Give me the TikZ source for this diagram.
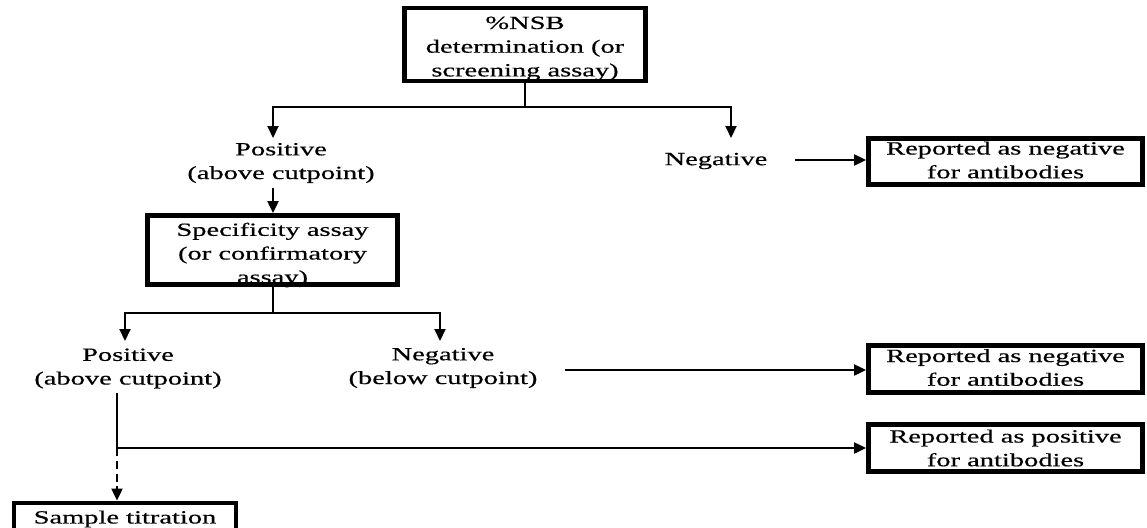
\documentclass[tikz,border=0pt]{standalone}
\usepackage{fontspec}
\setmainfont[FakeStretch=1.53,FakeBold=0.5]{Liberation Serif}
\usetikzlibrary{arrows.meta}
\tikzset{
  txt/.style={font=\fontsize{18.6}{23.7}\selectfont, align=center, inner sep=0pt},
  bx/.style={draw=black, line width=4.8pt, fill=white, inner sep=0pt},
  ln/.style={line width=2pt, draw=black},
  arr/.style={ln, -{Triangle[length=12pt,width=11pt]}},
  dsh/.style={ln, dash pattern=on 8pt off 5pt}
}
\begin{document}
\begin{tikzpicture}[x=1pt,y=-1pt]
\useasboundingbox (0,0) rectangle (1147,527);
\clip (0,0) rectangle (1147,527);
\fill[white] (0,0) rectangle (1147,527);

% boxes
\node[bx, minimum width=241pt, minimum height=73pt,
  label={[txt, yshift=-4pt]center:\%NSB\\determination (or\\screening assay)}] (top) at (525,44.5) {};
\node[bx, minimum width=250pt, minimum height=69pt,
  label={[txt, yshift=-5pt]center:Specificity assay\\(or confirmatory\\assay)}] (spec) at (272.5,250) {};
\node[bx, minimum width=274pt, minimum height=46pt,
  label={[txt, yshift=1.5pt]center:Reported as negative\\for antibodies}] (rep1) at (1005.5,161.5) {};
\node[bx, minimum width=274pt, minimum height=47pt,
  label={[txt, yshift=1.5pt]center:Reported as negative\\for antibodies}] (rep2) at (1005.5,369) {};
\node[bx, minimum width=274pt, minimum height=47pt,
  label={[txt]center:Reported as positive\\for antibodies}] (rep3) at (1005.5,448) {};
\node[bx, minimum width=222pt, minimum height=34pt,
  label={[txt, yshift=1pt]center:Sample titration}] (samp) at (125,520) {};

% text nodes
\node[txt] (pos1) at (281,163) {Positive\\(above cutpoint)};
\node[txt] (neg1) at (716,161) {Negative};
\node[txt] (pos2) at (128,368.5) {Positive\\(above cutpoint)};
\node[txt] (neg2) at (443,368) {Negative\\(below cutpoint)};

% junctions
\coordinate (j1) at (525,107);
\coordinate (t1) at (273,138);
\coordinate (t2) at (731,138);
\coordinate (j2) at (273,313);
\coordinate (t3) at (125,341);
\coordinate (t4) at (440,341);
\coordinate (p2b) at (117,393);
\coordinate (j3) at (117,448);
\coordinate (n1e) at (795,160);
\coordinate (n2e) at (565,370);
\coordinate (p1b) at (273,188);

% connectors
\draw[ln] (top.south) -- (j1);
\draw[arr] (j1) -| (t1);
\draw[arr] (j1) -| (t2);
\draw[arr] (n1e) -- (rep1.west |- n1e);
\draw[arr] (p1b) -- (spec.north -| p1b);
\draw[ln] (spec.south -| j2) -- (j2);
\draw[arr] (j2) -| (t3);
\draw[arr] (j2) -| (t4);
\draw[arr] (n2e) -- (rep2.west |- n2e);
\draw[ln] (p2b) -- (j3);
\draw[arr] (j3) -- (rep3.west);
\draw[dsh] (j3) -- ++(0,40);
\draw[arr] (117,486) -- (samp.north -| j3);
\end{tikzpicture}
\end{document}
